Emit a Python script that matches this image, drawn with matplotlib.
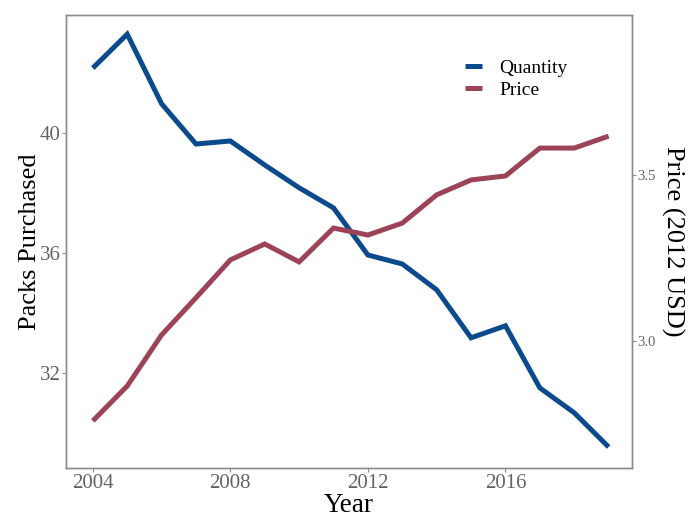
import matplotlib
matplotlib.use('Agg')
import matplotlib.pyplot as plt

years = list(range(2004, 2020))
quantity = [42.17, 43.30, 40.98, 39.64, 39.74, 38.94, 38.18, 37.51,
            35.94, 35.64, 34.78, 33.18, 33.58, 31.51, 30.68, 29.54]
price = [2.759, 2.864, 3.018, 3.130, 3.244, 3.292, 3.238, 3.340,
         3.319, 3.355, 3.440, 3.485, 3.497, 3.581, 3.581, 3.617]

x_ticks = [2004, 2008, 2012, 2016]
q_ticks = [32, 36, 40]
p_ticks = [3.0, 3.5]

blue = '#0a4a8d'
red = '#9d4358'
grey_txt = '#636363'
grey_line = '#8c8c8c'

plt.rcParams['font.family'] = ['Liberation Serif', 'DejaVu Serif']

fig = plt.figure(figsize=(6.9, 5.17), dpi=100)
ax = fig.add_axes([66 / 690, 1 - 468 / 517, (632 - 66) / 690, (468 - 15) / 517])
ax2 = ax.twinx()

lq, = ax.plot(years, quantity, color=blue, lw=3.6, solid_capstyle='butt', solid_joinstyle='miter')
lp, = ax2.plot(years, price, color=red, lw=3.6, solid_capstyle='butt', solid_joinstyle='miter')

ax.set_xlim(2003.22, 2019.68)
ax.set_ylim(28.84, 43.94)
ax2.set_ylim(2.617, 3.982)

ax.set_xticks(x_ticks)
ax.set_yticks(q_ticks)
ax2.set_yticks(p_ticks)
ax2.set_yticklabels(['3.0', '3.5'])

ax.tick_params(axis='both', labelsize=15, labelcolor=grey_txt, color=grey_line, length=3, width=0.8, pad=1)
ax2.tick_params(axis='y', labelsize=10.5, labelcolor=grey_txt, color=grey_line, length=3, width=0.8, pad=1)

for a in (ax, ax2):
    for s in a.spines.values():
        s.set_color(grey_line)
        s.set_linewidth(1.0)

ax.set_xlabel('Year', fontsize=19.5, labelpad=0)
ax.set_ylabel('Packs Purchased', fontsize=19, labelpad=-1)
ax2.set_ylabel('Price (2012 USD)', fontsize=19, rotation=270, labelpad=20)

fig.legend([lq, lp], ['Quantity', 'Price'], loc='upper left',
           bbox_to_anchor=(465 / 690, 1 - 59 / 517), frameon=False,
           fontsize=14, handlelength=0.85, handletextpad=0.9,
           labelspacing=0.25, borderpad=0, borderaxespad=0)

fig.savefig('out.png', dpi=100)
